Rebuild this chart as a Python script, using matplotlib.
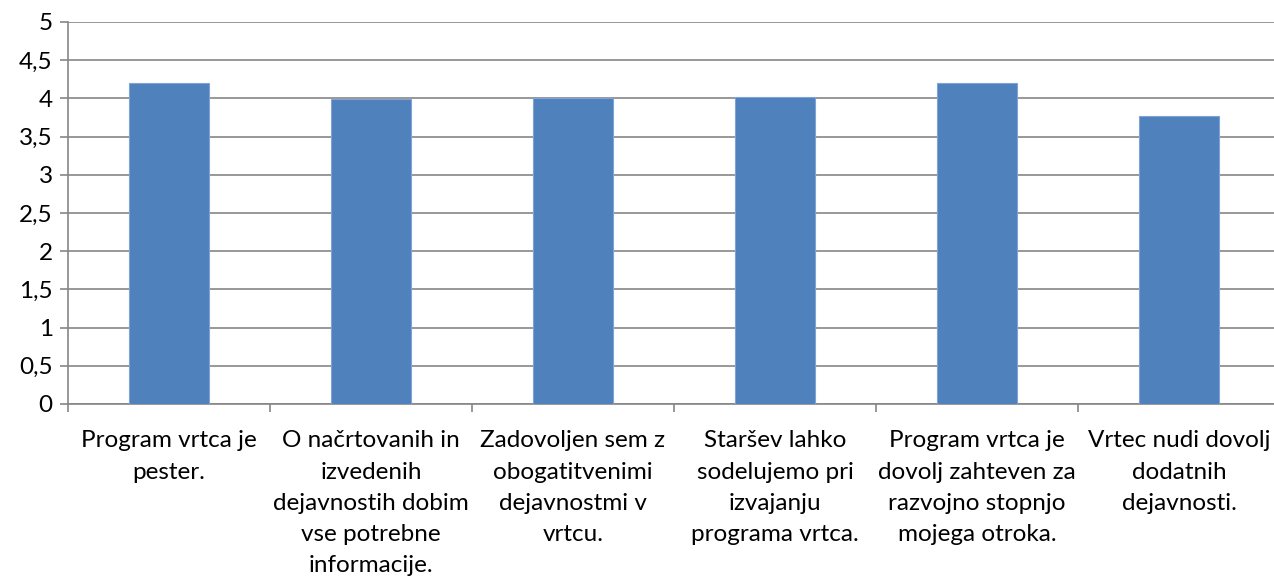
import matplotlib
matplotlib.use("Agg")
import matplotlib.pyplot as plt
import numpy as np

categories = [
    "Program vrtca je\npester.",
    "O načrtovanih in\nizvedenih\ndejavnostih dobim\nvse potrebne\ninformacije.",
    "Zadovoljen sem z\nobogatitvenimi\ndejavnostmi v\nvrtcu.",
    "Staršev lahko\nsodelujemo pri\nizvajanju\nprograma vrtca.",
    "Program vrtca je\ndovolj zahteven za\nrazvojno stopnjo\nmojega otroka.",
    "Vrtec nudi dovolj\ndodatnih\ndejavnosti.",
]
values = [4.2, 3.99, 4.0, 4.02, 4.2, 3.77]
yticks = [0, 0.5, 1, 1.5, 2, 2.5, 3, 3.5, 4, 4.5, 5]
ytick_labels = ["0", "0,5", "1", "1,5", "2", "2,5", "3", "3,5", "4", "4,5", "5"]

plt.rcParams['font.family'] = ['Lato', 'DejaVu Sans']

W, H = 1274, 579
fig = plt.figure(figsize=(W / 100, H / 100), dpi=100)
left, right, top, bottom = 68, 1280, 22, 404
ax = fig.add_axes([left / W, 1 - bottom / H, (right - left) / W, (bottom - top) / H])

x = np.arange(len(categories))
ax.bar(x, values, width=0.4, color="#4F81BD", edgecolor="#7FA3D4", linewidth=0.8, zorder=3)

ax.set_xlim(-0.5, len(categories) - 0.5)
ax.set_ylim(0, 5)
ax.set_yticks(yticks)
ax.set_yticklabels(ytick_labels, fontsize=17.5)
ax.yaxis.grid(True, color="#868686", linewidth=1.2, zorder=0)
ax.set_axisbelow(True)

ax.set_xticks(x)
ax.set_xticklabels(categories, fontsize=17.5, linespacing=1.6, va="top", ha="center")
ax.tick_params(axis="x", length=0, pad=19)
ax.set_xticks(np.arange(len(categories) + 1) - 0.5, minor=True)
ax.tick_params(axis="x", which="minor", length=6, color="#868686", width=1.2)
ax.tick_params(axis="y", length=6, color="#868686", width=1.2, pad=5)

for s in ["top", "right"]:
    ax.spines[s].set_visible(False)
for s in ["left", "bottom"]:
    ax.spines[s].set_color("#868686")
    ax.spines[s].set_linewidth(1.2)

fig.savefig("out.png", dpi=100)
